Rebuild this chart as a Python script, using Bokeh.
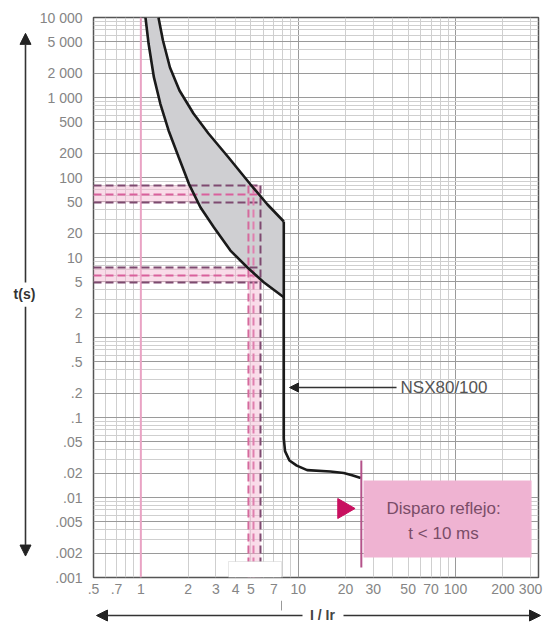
import numpy as np
from bokeh.plotting import figure
from bokeh.layouts import column, row
from bokeh.models import FixedTicker, Label, Arrow, NormalHead, Range1d, BoxAnnotation
from bokeh.embed import file_html
from bokeh.resources import INLINE

# ---------------- data ----------------
x_ticks = [0.5, 0.7, 1, 2, 3, 4, 5, 7, 10, 20, 30, 50, 70, 100, 200, 300]
x_tick_labels = [".5", ".7", "1", "2", "3", "4", "5", "7", "10", "20", "30",
                 "50", "70", "100", "200", "300"]
y_ticks = [10000, 5000, 2000, 1000, 500, 200, 100, 50, 20, 10, 5, 2, 1,
           0.5, 0.2, 0.1, 0.05, 0.02, 0.01, 0.005, 0.002, 0.001]
y_tick_labels = ["10 000", "5 000", "2 000", "1 000", "500", "200", "100", "50",
                 "20", "10", "5", "2", "1", ".5", ".2", ".1", ".05", ".02",
                 ".01", ".005", ".002", ".001"]

# upper (max) thermal curve
upper_I = [1.294, 1.382, 1.531, 1.76, 2.16, 2.69, 3.61, 4.98, 6.38, 8.1]
upper_t = [10000, 5158, 2371, 1223, 631, 355, 178, 81.7, 46, 28.2]
# lower (min) thermal curve
lower_I = [1.07, 1.12, 1.21, 1.33, 1.50, 1.74, 2.02, 2.39, 2.91, 3.71, 4.74, 6.04, 8.1]
lower_t = [10000, 4690, 1795, 834, 387, 179, 83.4, 42.5, 23.9, 12.2, 7.56, 4.91, 3.19]
# vertical drop + instantaneous tail
inst_I = [8.1, 8.1, 8.25, 8.8, 9.8, 11.4, 16.0, 19.5, 22.0, 25.0]
inst_t = [28.2, 0.055, 0.038, 0.029, 0.025, 0.022, 0.0211, 0.0202, 0.019, 0.0175]

# reading lines (dashed)
h_top_t = [79.4, 61.3, 48.7]
h_low_t = [7.5, 5.96, 4.87]
v_I = [4.83, 5.20, 5.76]

# reflex trip line
reflex_I = 25.2
reflex_t_top = 0.029
reflex_t_bottom = 0.00133

X0, X1 = 0.5, 337
Y0, Y1 = 0.001, 10000

# helpers for placing annotations by page pixel
def I_at(px):
    return 0.5 * 10 ** ((px - 93) / 157.3)

def t_at(py):
    return 10 ** (4 - (py - 17) / 80.0)

MAIN_W, MAIN_H = 508, 600
LEFT_W = 544 - MAIN_W
BOT_H = 626 - MAIN_H

p = figure(width=MAIN_W, height=MAIN_H, x_axis_type="log", y_axis_type="log",
           x_range=Range1d(X0, X1), y_range=Range1d(Y0, Y1),
           output_backend="svg", toolbar_location=None,
           min_border_left=93 - LEFT_W, min_border_right=6, min_border_top=17,
           min_border_bottom=MAIN_H - 577)
p.background_fill_color = "white"
p.border_fill_color = "white"
p.outline_line_color = "#555555"
p.outline_line_width = 1.5

# axes
p.xaxis.ticker = FixedTicker(ticks=x_ticks)
p.xaxis.major_label_overrides = {v: s for v, s in zip(x_ticks, x_tick_labels)}
p.yaxis.ticker = FixedTicker(ticks=y_ticks)
p.yaxis.major_label_overrides = {v: s for v, s in zip(y_ticks, y_tick_labels)}
for ax in (p.xaxis[0], p.yaxis[0]):
    ax.major_tick_line_color = None
    ax.minor_tick_line_color = None
    ax.major_tick_out = 0
    ax.major_tick_in = 0
    ax.minor_tick_out = 0
    ax.minor_tick_in = 0
    ax.axis_line_color = None
    ax.major_label_text_font = "Liberation Sans"
    ax.major_label_text_font_size = "14px"
    ax.major_label_text_color = "#858585"
p.yaxis.major_label_standoff = 11
p.xaxis.major_label_standoff = 6

# grids (log paper)
xg_major = [1, 10, 100]
xg_minor = [n * 10 ** k for k in (-1, 0, 1, 2) for n in range(1, 10)
            if X0 < n * 10 ** k < X1 and n * 10 ** k not in xg_major]
yg_major = [n * 10 ** k for k in range(-3, 4) for n in (1, 2, 5)]
yg_minor = [n * 10 ** k for k in range(-3, 4) for n in (3, 4, 6, 7, 8, 9)]
p.xgrid.ticker = FixedTicker(ticks=xg_major, minor_ticks=xg_minor)
p.ygrid.ticker = FixedTicker(ticks=yg_major, minor_ticks=yg_minor)
for g in (p.xgrid[0], p.ygrid[0]):
    g.grid_line_color = "#9a9a9a"
    g.grid_line_width = 1
    g.minor_grid_line_color = "#cfcfcf"
    g.minor_grid_line_width = 1

# pink vertical line at Ir = 1
p.segment(x0=[1], y0=[Y0], x1=[1], y1=[Y1], line_color="#e9a3c4", line_width=2)

# pink bands for reading lines
p.quad(left=[X0, X0], right=[max(v_I), max(v_I)],
       bottom=[min(h_top_t), min(h_low_t)], top=[max(h_top_t), max(h_low_t)],
       fill_color="#f3b9d4", fill_alpha=0.5, line_color=None)
p.quad(left=[min(v_I)], right=[max(v_I)], bottom=[Y0], top=[max(h_top_t)],
       fill_color="#f3b9d4", fill_alpha=0.5, line_color=None)

# gray band between curves
band_x = upper_I + lower_I[::-1]
band_y = upper_t + lower_t[::-1]
p.patch(band_x, band_y, fill_color="#cfcfd2", fill_alpha=1, line_color=None)

# dashed reading lines
h_colors = ["#7e4a70", "#d9609c", "#7e4a70"]
for tv, c in zip(h_top_t, h_colors):
    p.line([X0, max(v_I)], [tv, tv], line_color=c, line_width=2, line_dash="8 4")
for tv, c in zip(h_low_t, h_colors):
    p.line([X0, max(v_I)], [tv, tv], line_color=c, line_width=2, line_dash="8 4")
v_colors = ["#d56a9d", "#e07fae", "#7e4a70"]
for iv, c in zip(v_I, v_colors):
    p.line([iv, iv], [max(h_top_t), Y0], line_color=c, line_width=2, line_dash="8 4")

# curves
p.line(upper_I, upper_t, line_color="#1a1a1a", line_width=2.6)
p.line(lower_I, lower_t, line_color="#1a1a1a", line_width=2.6)
p.line(inst_I, inst_t, line_color="#1a1a1a", line_width=2.6)

# little white box artifact at the bottom
p.add_layout(BoxAnnotation(left=I_at(228), right=I_at(281), top=t_at(561), bottom=Y0,
                           fill_color="white", fill_alpha=1, line_color="#b0b0b0",
                           line_width=1))

# reflex box
p.add_layout(BoxAnnotation(left=I_at(363), right=I_at(531), top=t_at(480),
                           bottom=t_at(557), fill_color="#efb3d2", fill_alpha=1,
                           line_color=None))
p.segment(x0=[reflex_I], y0=[reflex_t_top], x1=[reflex_I], y1=[reflex_t_bottom],
          line_color="#b4528a", line_width=2)
p.scatter(x=[I_at(343)], y=[t_at(508)], marker="triangle", size=20,
          angle=-np.pi / 2, fill_color="#c8105f", line_color="#c8105f")
for txt, py in (("Disparo reflejo:", 508), ("t < 10 ms", 533)):
    p.add_layout(Label(x=I_at(443), y=t_at(py), text=txt, text_align="center",
                       text_baseline="middle", text_font="Liberation Sans",
                       text_font_size="17px", text_color="#7a4d68"))

# NSX80/100 callout
p.add_layout(Arrow(end=NormalHead(size=9, fill_color="#222", line_color="#222"),
                   x_start=I_at(396), y_start=t_at(387), x_end=I_at(289),
                   y_end=t_at(387), line_color="#333", line_width=1.5))
p.add_layout(Label(x=I_at(400), y=t_at(387), text="NSX80/100", text_align="left",
                   text_baseline="middle", text_font="Liberation Sans",
                   text_font_size="17px", text_color="#555555"))

# ---------- left strip: t(s) with double arrow ----------
left = figure(width=LEFT_W, height=MAIN_H, x_range=Range1d(0, LEFT_W),
              y_range=Range1d(MAIN_H, 0), output_backend="svg",
              toolbar_location=None, x_axis_location=None, y_axis_location=None,
              min_border_left=0, min_border_right=0, min_border_top=0,
              min_border_bottom=0)
left.outline_line_color = None
left.grid.grid_line_color = None
left.add_layout(Label(x=24, y=296, text="t(s)", text_align="center",
                      text_baseline="middle", text_font="Liberation Sans",
                      text_font_style="bold", text_font_size="14px", text_color="#333"))
for y_from, y_to in ((284, 17), (310, 577)):
    left.add_layout(Arrow(end=NormalHead(size=11, fill_color="#222", line_color="#222"),
                          x_start=25, y_start=y_from, x_end=25, y_end=y_to,
                          line_color="#333", line_width=1.6))

# ---------- bottom strip: I / Ir with double arrow ----------
bottom = figure(width=544, height=BOT_H, x_range=Range1d(0, 544),
                y_range=Range1d(626, MAIN_H), output_backend="svg",
                toolbar_location=None, x_axis_location=None, y_axis_location=None,
                min_border_left=0, min_border_right=0, min_border_top=0,
                min_border_bottom=0)
bottom.outline_line_color = None
bottom.grid.grid_line_color = None
bottom.add_layout(Label(x=322, y=614, text="I / Ir", text_align="center",
                        text_baseline="middle", text_font="Liberation Sans",
                        text_font_style="bold", text_font_size="14px", text_color="#444"))
for x_from, x_to in ((302, 96), (343, 540)):
    bottom.add_layout(Arrow(end=NormalHead(size=11, fill_color="#222", line_color="#222"),
                            x_start=x_from, y_start=615, x_end=x_to, y_end=615,
                            line_color="#333", line_width=1.6))
bottom.add_layout(Arrow(end=None, x_start=281, y_start=600, x_end=281, y_end=610,
                        line_color="#999", line_width=1))

layout = column(row(left, p), bottom)
open("out.html", "w").write(file_html(layout, INLINE))
